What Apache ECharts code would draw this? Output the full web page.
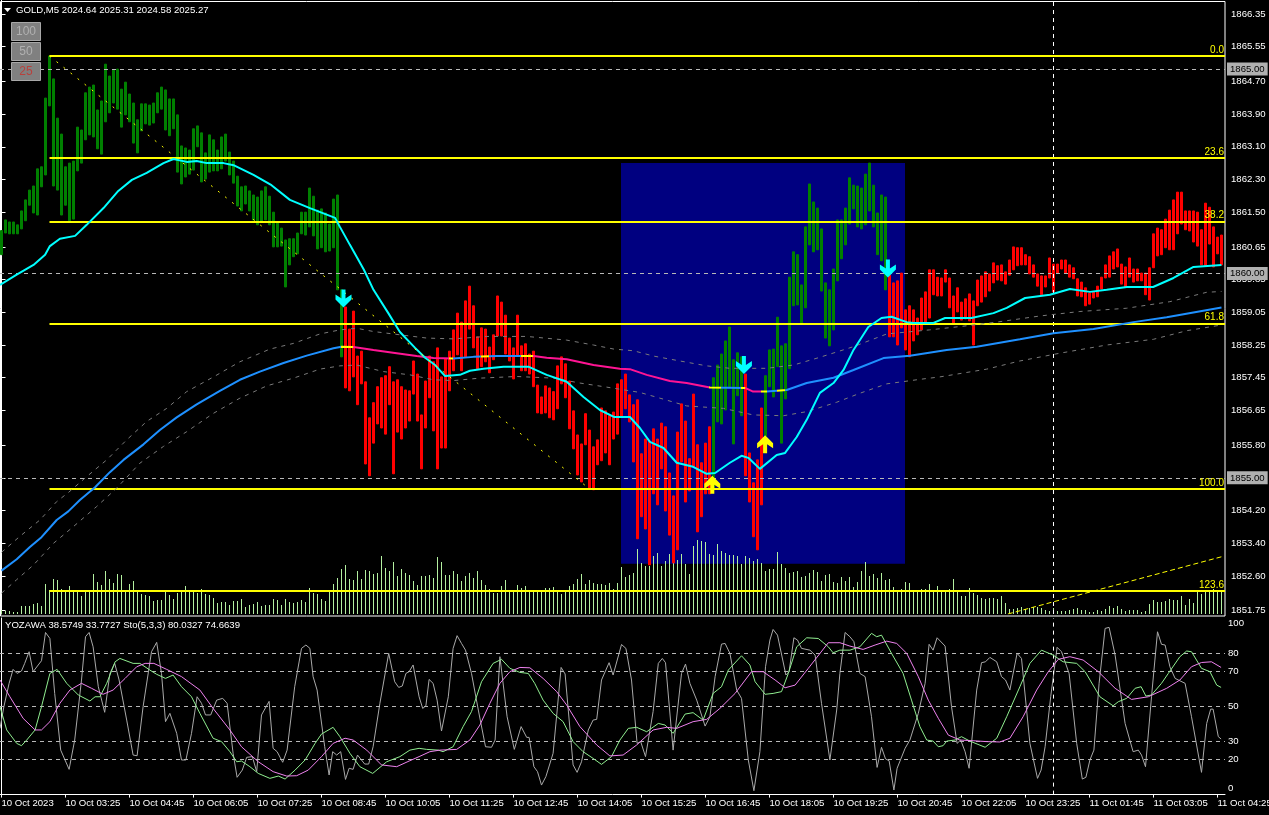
<!DOCTYPE html>
<html><head><meta charset="utf-8"><title>GOLD M5</title>
<style>html,body{margin:0;padding:0;background:#000}#c{width:1269px;height:815px}</style>
<script src="https://cdn.jsdelivr.net/npm/echarts@6/dist/echarts.min.js"></script>
</head><body><div id="c"></div>
<script>
const barHigh=[1861.05,1861.31,1861.26,1861.26,1861.19,1861.53,1861.80,1862.04,1862.14,1862.56,1862.61,1864.29,1865.32,1864.76,1863.80,1863.41,1862.61,1862.70,1862.75,1863.58,1863.51,1864.42,1864.56,1864.61,1864.00,1864.22,1865.12,1864.83,1864.98,1865.00,1864.51,1864.68,1864.39,1864.17,1863.76,1864.15,1864.15,1864.12,1864.17,1864.42,1864.56,1864.49,1864.27,1864.27,1863.88,1863.12,1863.07,1863.02,1863.54,1863.61,1863.44,1862.95,1863.39,1863.27,1863.02,1863.34,1863.41,1862.97,1862.75,1862.38,1862.12,1862.14,1862.02,1861.92,1861.87,1862.02,1862.12,1861.89,1861.50,1861.26,1861.11,1860.82,1860.85,1860.85,1860.99,1861.50,1861.50,1862.09,1861.89,1861.55,1861.58,1861.48,1861.21,1861.82,1861.92,1859.60,
1859.18,1858.64,1859.08,1857.98,1858.10,1857.35,1856.47,1856.84,1857.23,1857.45,1857.50,1857.72,1857.35,1857.40,1857.23,1857.15,1857.13,1857.86,1857.54,1856.54,1857.37,1857.98,1857.84,1858.18,1857.47,1857.91,1858.10,1858.62,1859.03,1858.81,1859.33,1859.69,1859.21,1858.45,1858.67,1858.64,1858.20,1858.50,1859.45,1859.30,1858.98,1858.42,1858.18,1858.98,1858.23,1858.28,1858.03,1858.10,1857.27,1856.98,1857.25,1857.20,1857.11,1857.74,1857.96,1857.79,1857.37,1856.64,1856.05,1855.83,1856.57,1856.17,1855.76,1855.93,1856.71,1856.64,1856.52,1856.61,1857.30,1857.40,1857.54,1857.03,1856.79,1856.91,1855.59,1855.95,1855.90,1856.20,1855.95,1856.34,1856.25,1855.12,1854.56,1856.12,1856.81,1856.39,1855.47,1857.05,1855.81,1855.37,1855.85,1856.25,
1857.45,1857.76,1858.03,1858.35,1858.69,1857.89,1858.06,1857.96,1857.54,1855.61,1854.88,1855.44,1856.71,1857.50,1858.13,1858.15,1858.93,1858.23,1858.28,1859.91,1860.53,1860.46,1859.72,1861.14,1862.19,1861.75,1861.60,1861.09,1859.77,1859.60,1860.11,1861.31,1861.31,1861.60,1862.34,1862.16,1862.14,1862.09,1862.43,1862.70,1862.16,1861.48,1861.92,1861.87,
1859.96,1859.77,1859.82,1860.01,1859.11,1859.21,1859.11,1858.91,1859.40,1859.55,1860.09,1860.09,1859.91,1859.89,1860.09,1859.89,1859.45,1859.65,1859.30,1859.38,1859.50,1859.33,1859.84,1859.94,1860.04,1859.99,1860.26,1860.19,1860.21,1860.04,1860.33,1860.65,1860.63,1860.63,1860.46,1860.41,1860.21,1859.99,1859.94,1859.94,1860.38,1860.23,1860.23,1860.33,1860.33,1860.21,1860.14,1859.87,1859.79,1859.65,1859.52,1859.55,1859.69,1859.91,1860.21,1860.43,1860.53,1860.60,1860.23,1860.16,1860.38,1860.11,1860.11,1860.01,1860.01,1860.14,1860.97,1861.11,1861.07,1861.33,1861.55,1861.80,1861.99,1861.99,1861.53,1861.53,1861.53,1861.50,1861.07,1861.72,1861.62,1861.14,1860.89,1860.94];
const barLow=[1860.46,1860.99,1860.97,1860.97,1860.97,1861.09,1861.29,1861.67,1861.48,1861.43,1862.12,1862.41,1864.10,1862.14,1862.04,1861.43,1861.67,1861.29,1861.33,1862.51,1862.70,1863.27,1863.39,1863.34,1863.05,1862.92,1863.71,1863.93,1864.17,1864.02,1863.58,1863.88,1863.71,1863.19,1862.95,1863.49,1863.66,1863.63,1863.68,1863.93,1864.02,1863.51,1863.37,1863.54,1862.48,1862.19,1862.36,1862.43,1862.53,1863.10,1862.24,1862.31,1862.48,1862.51,1862.51,1862.56,1862.75,1862.41,1862.21,1861.65,1861.53,1861.70,1861.53,1861.31,1861.19,1861.26,1861.31,1861.19,1860.65,1860.65,1860.67,1859.67,1860.21,1860.41,1860.48,1860.97,1860.94,1861.14,1860.92,1860.60,1860.63,1860.53,1860.55,1860.63,1859.60,1857.96,
1857.20,1857.13,1857.47,1856.79,1857.30,1855.34,1855.05,1855.85,1856.32,1856.22,1856.07,1856.79,1855.10,1856.12,1855.95,1856.22,1856.39,1857.05,1856.39,1855.22,1856.22,1856.96,1856.15,1855.22,1855.73,1855.73,1857.13,1857.62,1858.01,1857.62,1857.96,1858.64,1858.18,1857.67,1857.72,1857.84,1857.57,1857.89,1858.47,1858.47,1858.03,1857.86,1857.42,1857.98,1857.62,1857.62,1857.54,1857.23,1856.59,1856.57,1856.59,1856.47,1856.42,1856.69,1857.30,1856.96,1856.20,1855.71,1855.07,1854.90,1855.81,1854.73,1854.71,1855.32,1855.42,1855.61,1855.32,1855.95,1856.07,1856.49,1856.69,1856.37,1855.39,1853.51,1854.05,1853.75,1852.87,1854.61,1854.34,1855.22,1854.19,1853.60,1852.92,1853.24,1855.39,1854.41,1854.68,1855.27,1853.68,1854.05,1854.61,1854.61,
1854.71,1856.37,1856.32,1856.66,1857.20,1855.83,1857.01,1856.52,1855.05,1854.41,1853.56,1853.24,1854.34,1856.03,1857.23,1856.98,1857.72,1855.85,1856.93,1857.67,1859.21,1859.23,1858.76,1859.16,1860.70,1860.53,1860.58,1859.57,1858.42,1858.23,1858.62,1859.82,1860.36,1860.70,1861.21,1861.58,1861.14,1861.09,1861.19,1861.53,1861.14,1860.46,1860.31,1859.60,
1858.45,1858.45,1858.25,1858.67,1858.13,1857.96,1858.35,1858.50,1858.62,1858.76,1858.91,1859.48,1859.45,1859.45,1859.79,1859.16,1858.79,1859.06,1858.86,1858.89,1858.84,1858.25,1859.21,1859.30,1859.43,1859.57,1859.77,1859.84,1859.82,1859.74,1859.96,1860.09,1860.19,1860.21,1860.21,1859.99,1859.91,1859.69,1859.48,1859.67,1859.89,1859.55,1860.01,1860.11,1860.01,1859.91,1859.87,1859.45,1859.43,1859.21,1859.25,1859.40,1859.43,1859.62,1859.89,1859.91,1860.11,1860.16,1859.74,1859.67,1859.91,1859.79,1859.82,1859.82,1859.48,1859.35,1860.14,1860.43,1860.46,1860.63,1860.58,1860.58,1860.97,1861.21,1861.07,1861.04,1860.77,1860.67,1860.21,1860.19,1860.72,1860.16,1860.48,1860.21];
const bullRanges=[[0,85],[178,185],[191,221]];
const volume=[4,3,3,2,2,8,8,8,10,11,8,30,24,35,34,25,24,28,23,23,18,22,23,40,32,29,43,35,31,40,39,24,30,33,24,20,19,18,13,14,14,24,19,15,21,23,28,23,22,21,25,20,19,16,11,12,12,9,13,13,15,7,9,10,12,8,9,9,15,14,9,15,12,11,12,14,12,26,21,20,15,13,23,30,36,45,49,35,34,43,35,44,43,40,41,58,46,43,52,38,45,41,39,33,29,38,38,39,36,57,52,39,39,43,40,33,38,41,36,43,34,29,25,21,21,28,34,22,23,29,26,28,23,23,23,23,26,26,27,24,20,24,28,30,35,40,30,34,31,30,30,29,31,25,31,47,37,39,41,65,51,48,48,58,61,48,53,60,52,54,60,50,40,68,74,73,72,60,59,70,63,61,59,59,58,50,58,56,53,55,51,43,45,45,62,50,46,41,42,43,37,38,41,44,42,33,39,40,32,31,37,33,37,27,32,43,52,38,40,36,41,34,35,27,24,25,32,31,24,24,25,25,30,24,28,24,24,25,35,24,18,18,26,21,19,16,15,16,16,15,18,11,5,5,6,7,5,6,7,7,6,4,3,6,3,3,3,4,5,6,4,4,2,2,4,3,5,8,6,8,5,3,4,4,4,2,3,10,14,12,12,13,15,14,14,18,9,15,11,24,20,24,24,25,24,24];
const emaLine=[[-0.375,1859.72],[3.8,1859.97],[8,1860.21],[10.9,1860.46],[12.1,1860.67],[14.6,1860.85],[18.4,1860.92],[21.3,1861.19],[25.5,1861.60],[29.2,1862.02],[32.6,1862.29],[36.3,1862.46],[40.5,1862.70],[43,1862.80],[46.3,1862.73],[48.8,1862.75],[51.3,1862.70],[55.5,1862.70],[58,1862.65],[63,1862.41],[67.5,1862.16],[72.1,1861.80],[77.1,1861.60],[83.4,1861.36],[84.6,1861.14],[87.1,1860.70],[90.6,1860.09],[93,1859.60],[96.7,1859.03],[99.6,1858.57],[103.4,1858.18],[105.9,1857.94],[108.4,1857.76],[110.9,1857.49],[114.6,1857.52],[117.1,1857.62],[120.5,1857.67],[125.5,1857.72],[131.7,1857.72],[136.3,1857.52],[141.3,1857.35],[145.5,1856.98],[149.6,1856.66],[153.1,1856.49],[157.1,1856.49],[159.6,1856.22],[162.1,1855.88],[165.5,1855.73],[168.8,1855.37],[172.9,1855.27],[176.3,1855.10],[178.4,1855.12],[182.1,1855.37],[185,1855.54],[186.7,1855.49],[189.6,1855.22],[193.8,1855.56],[195.9,1855.61],[198.8,1856.00],[201.3,1856.42],[204.6,1857.08],[208,1857.32],[210.5,1857.64],[213,1858.13],[216.7,1858.69],[220,1858.91],[222.5,1858.94],[226.3,1858.81],[228,1858.79],[233,1858.79],[235.9,1858.91],[242.5,1858.91],[248,1859.03],[251.3,1859.16],[255.9,1859.40],[262.1,1859.48],[267.1,1859.62],[272.1,1859.55],[276.3,1859.60],[281.3,1859.67],[287.9,1859.67],[293,1859.89],[298,1860.16],[305,1860.21]];
const maLine=[[0,1852.73],[3.8,1853.01],[7.1,1853.31],[10,1853.55],[13.8,1853.97],[16.7,1854.18],[19.6,1854.46],[23.4,1854.77],[27.1,1855.14],[30.5,1855.44],[35.5,1855.82],[39.6,1856.17],[43.8,1856.48],[48.8,1856.80],[54.6,1857.13],[59.6,1857.40],[64.6,1857.60],[70.5,1857.81],[76.3,1857.99],[83,1858.17],[85,1858.21],[88,1858.20],[93,1858.13],[98.8,1858.05],[103.8,1857.98],[108,1857.93],[113,1857.92],[118,1857.96],[123.8,1857.98],[133,1857.98],[136.3,1857.94],[141.3,1857.90],[148,1857.76],[154.6,1857.67],[157.1,1857.66],[161.3,1857.52],[167.1,1857.37],[171.3,1857.32],[177.1,1857.21],[185.9,1857.20],[187.9,1857.11],[191.3,1857.11],[196.3,1857.15],[201.3,1857.32],[208,1857.45],[213,1857.64],[220.5,1857.93],[227.1,1857.99],[236.3,1858.13],[243.8,1858.21],[254.6,1858.39],[263,1858.54],[273,1858.64],[283,1858.81],[291.3,1858.93],[305,1859.17]];
const maColors=[{lt:85,color:'#1e90ff'},{gte:85,lt:88,color:'#ffff00'},{gte:88,lt:112,color:'#ff1493'},{gte:112,lt:113,color:'#ffff00'},{gte:113,lt:120,color:'#1e90ff'},{gte:120,lt:122,color:'#ffff00'},{gte:122,lt:130,color:'#1e90ff'},{gte:130,lt:133,color:'#ffff00'},{gte:133,lt:177,color:'#ff1493'},{gte:177,lt:180,color:'#ffff00'},{gte:180,lt:185,color:'#1e90ff'},{gte:185,lt:186,color:'#ffff00'},{gte:186,lt:190,color:'#ff1493'},{gte:190,lt:191.3,color:'#ffff00'},{gte:191.3,lt:194,color:'#1e90ff'},{gte:194,lt:196,color:'#ffff00'},{gte:196,color:'#1e90ff'}];
const bandUpper=[[0,1853.18],[4.6,1853.57],[9.6,1853.97],[13.8,1854.42],[16.7,1854.64],[21.3,1855.03],[26.3,1855.44],[31.3,1855.93],[36.3,1856.38],[41.3,1856.70],[46.3,1857.11],[53,1857.47],[59.6,1857.84],[67.1,1858.15],[73,1858.29],[79.6,1858.52],[84.6,1858.62],[88.8,1858.66],[93,1858.58],[99.6,1858.50],[106.3,1858.42],[113,1858.40],[121.3,1858.46],[131.3,1858.46],[141.3,1858.37],[148,1858.25],[153.1,1858.15],[158,1858.11],[163,1857.98],[169.6,1857.86],[176.3,1857.74],[182.1,1857.68],[191.3,1857.68],[198,1857.76],[204.6,1857.95],[213,1858.21],[221.3,1858.52],[232,1858.62],[241.3,1858.72],[248.8,1858.81],[259.6,1858.96],[269.6,1859.07],[281.3,1859.15],[292.1,1859.31],[301.3,1859.54],[305,1859.56]];
const bandLower=[[0,1852.18],[3.8,1852.51],[8,1852.87],[13,1853.40],[18,1853.81],[23.8,1854.30],[28.8,1854.75],[34.6,1855.36],[40.5,1855.77],[46.3,1856.13],[53,1856.58],[59.6,1856.95],[66.3,1857.25],[73,1857.44],[79.6,1857.66],[84.6,1857.74],[88.8,1857.76],[95.5,1857.60],[102.1,1857.52],[108,1857.40],[113,1857.38],[119.6,1857.44],[128.8,1857.48],[138,1857.44],[144.6,1857.32],[151.3,1857.22],[159.6,1857.09],[164.6,1856.95],[171.3,1856.76],[180.5,1856.70],[187.9,1856.54],[195.5,1856.52],[201.3,1856.62],[208.8,1856.85],[214.6,1857.07],[221.3,1857.30],[229.6,1857.41],[234.6,1857.47],[246.3,1857.66],[254.6,1857.86],[264.6,1858.05],[276.3,1858.25],[288,1858.39],[296.3,1858.60],[305,1858.74]];
const trendDown=[[12,1865.32],[147,1854.73]];
const trendExt=[[251.6,1851.67],[305,1853.07]];
const fibNames=['0.0','23.6','38.2','61.8','100.0','123.6'];
const fibValues=[1865.32,1862.82,1861.27,1858.78,1854.73,1852.23];
const levelValues=[1865,1860,1855];
const priceTicks=[1866.35,1865.55,1864.70,1863.90,1863.10,1862.30,1861.50,1860.65,1859.85,1859.05,1858.25,1857.45,1856.65,1855.80,1855.00,1854.20,1853.40,1852.60,1851.75];
const timeLabels=['10 Oct 2023','10 Oct 03:25','10 Oct 04:45','10 Oct 06:05','10 Oct 07:25','10 Oct 08:45','10 Oct 10:05','10 Oct 11:25','10 Oct 12:45','10 Oct 14:05','10 Oct 15:25','10 Oct 16:45','10 Oct 18:05','10 Oct 19:25','10 Oct 20:45','10 Oct 22:05','10 Oct 23:25','11 Oct 01:45','11 Oct 03:05','11 Oct 04:25'];
const arrowsDown=[[85.5,1859.39],[185.6,1857.76],[221.6,1860.12]];
const arrowsUp=[[177.7,1854.83],[190.9,1855.82]];
const stoLevels=[80,70,50,30,20];
const stoTicks=[100,80,70,50,30,20,0];
const yozawa=[[-0.375,37.5],[0.6,49.8],[1.9,63.0],[2.9,70.9],[3.9,68.6],[5,70.0],[5.8,74.3],[6.9,80.9],[7.9,69.6],[10,75.8],[11,91.8],[12.1,88.4],[13.3,57.3],[14.8,25.2],[16.9,14.3],[18.3,30.9],[20,64.9],[21,89.4],[21.9,91.8],[22.9,83.7],[24.2,61.1],[25.8,46.6],[27.1,68.6],[28.3,74.3],[29.4,64.9],[31.3,42.2],[32.9,22.4],[33.9,22.0],[35.4,49.8],[37.5,80.9],[38.8,86.2],[40,68.6],[41,41.3],[42.1,46.0],[43.8,34.7],[45,19.6],[46.1,19.6],[47.5,34.7],[48.9,55.4],[50,51.7],[51,45.1],[52.3,45.1],[53.8,53.5],[55.3,54.5],[56.4,51.7],[57.9,23.4],[58.9,9.8],[60.2,13.9],[61.3,21.1],[62.7,21.5],[63.8,13.0],[65,45.1],[66.9,52.8],[67.9,26.2],[68.9,24.3],[70.3,18.3],[71.4,25.2],[73.3,61.1],[75,82.8],[76.1,84.7],[77.1,82.8],[77.9,66.8],[78.9,59.2],[80.8,27.1],[81.9,11.1],[82.8,24.3],[83.8,22.4],[84.8,24.3],[86,8.6],[86.9,14.9],[87.9,14.3],[89,22.4],[90.8,17.3],[91.8,17.3],[92.9,27.1],[94.6,51.7],[96.8,80.0],[98.3,63.9],[99.3,60.7],[100.2,61.5],[101.1,68.6],[101.9,69.6],[102.9,73.4],[104.4,55.4],[105.3,48.8],[106.1,50.3],[106.9,65.2],[107.9,63.0],[108.9,53.5],[110,36.0],[111.7,55.4],[112.9,82.8],[113.9,90.0],[115,85.6],[116,81.8],[117.5,68.6],[119.2,47.9],[121,27.1],[122.5,26.8],[123.4,30.9],[124.6,78.1],[126.4,44.1],[128.2,25.6],[129.9,38.5],[131.3,32.4],[131.9,32.4],[133.1,15.8],[134,13.0],[135,5.4],[136.1,10.2],[137.9,23.4],[139,49.8],[139.9,72.0],[140.9,68.3],[142.9,16.8],[143.9,12.6],[145,18.6],[146.7,36.6],[147.9,42.2],[148.8,42.6],[150,64.9],[151.9,74.7],[152.9,67.7],[155,85.0],[156.1,82.8],[157.5,64.9],[158.9,29.0],[159.8,30.0],[161,21.5],[162.9,47.0],[164.2,74.3],[165.2,77.1],[166,74.7],[167.9,25.2],[170,68.6],[171,73.9],[172.1,63.0],[173.8,53.5],[175.9,38.8],[177.1,44.1],[178.4,66.8],[180,85.2],[180.9,85.6],[182.1,80.0],[183.8,59.2],[185,54.5],[186.7,19.6],[188.1,2.2],[189.6,24.3],[191,72.4],[192.1,87.5],[192.9,93.5],[194,90.3],[196.1,67.7],[196.9,69.6],[198.1,88.8],[199,87.5],[200,82.8],[202.1,81.8],[203.4,79.0],[205,51.7],[207.1,19.6],[208.8,47.9],[209.6,68.6],[210.9,91.8],[212.1,89.4],[213.1,86.6],[214.6,68.6],[215.9,66.8],[217.5,44.1],[218.9,15.4],[220,26.8],[221,20.2],[221.9,19.2],[223.1,2.6],[223.9,14.9],[225.9,26.2],[227.1,30.9],[229.2,46.0],[230.9,63.0],[231.9,85.1],[232.9,81.8],[233.9,88.8],[235.9,84.1],[237.5,49.8],[238.9,29.0],[239.8,30.9],[240.9,24.3],[241.9,14.9],[243.8,59.2],[245,74.7],[246,75.2],[247.1,77.7],[248.8,75.2],[250,66.8],[251,64.9],[252.1,59.2],[253.9,80.0],[255,77.1],[257.1,29.0],[259,9.2],[259.9,13.9],[260.9,27.1],[262.3,55.4],[263.9,83.4],[265,80.9],[266.9,68.6],[268.8,29.0],[270.2,8.8],[271.1,9.8],[272.1,19.6],[273.1,25.2],[274.4,63.0],[275.9,94.1],[276.9,94.7],[278.4,79.0],[280.9,40.3],[282.9,24.3],[284.2,25.2],[285,22.4],[286,15.8],[287.5,55.4],[289,92.2],[290,85.1],[290.9,84.7],[292.1,72.4],[293.4,65.8],[295.9,63.0],[297.5,44.1],[300,12.6],[301.3,40.3],[302.3,48.4],[302.9,48.4],[304.2,32.8],[304.9,31.5]];
const stoMain=[[-0.375,49.8],[1.3,36.6],[3.8,29.0],[5,27.7],[6.3,30.9],[8.4,36.6],[10,49.8],[12.1,68.6],[13.9,70.9],[16.3,63.0],[19.2,56.4],[22.1,53.0],[23.4,55.4],[24.6,55.4],[26.3,63.0],[28.4,75.2],[29.6,77.1],[32.9,74.3],[34.6,74.3],[37.1,70.5],[38.8,68.1],[41,65.8],[42.9,67.7],[45,61.1],[47.5,55.4],[49.6,46.0],[52.9,31.9],[55,30.0],[57.1,24.3],[58.8,18.6],[60,19.0],[62.1,15.8],[64.2,12.0],[67.1,9.2],[69.2,10.5],[70.9,8.8],[73.4,13.9],[75.9,19.6],[78.4,29.0],[80,34.3],[82.9,38.1],[84.6,32.8],[87.1,23.4],[89.6,15.8],[92.8,12.0],[96.3,18.6],[99.6,21.5],[102.1,25.2],[104.4,26.2],[106.3,25.6],[109.2,25.2],[110.4,24.3],[112.9,27.1],[115.4,38.5],[117.5,47.0],[120,63.9],[122.9,74.3],[125,76.6],[127.1,71.5],[129.6,69.2],[131.7,68.6],[133.3,63.0],[135.4,53.5],[137.9,46.0],[140.4,41.3],[142.9,30.0],[145.4,24.3],[147.9,20.5],[150,17.1],[152.5,21.5],[154.6,30.9],[156.7,37.5],[158.8,38.1],[161.3,35.6],[164.2,40.3],[165.9,39.4],[167.9,34.7],[170.9,45.6],[172.9,46.4],[175.4,42.2],[177.9,57.3],[180,61.1],[181.7,70.5],[185,78.6],[187.1,73.4],[188.4,63.9],[190.9,56.8],[192.9,57.3],[195,58.3],[196.7,68.6],[198.8,83.7],[201.3,88.8],[204.2,88.4],[206.7,83.7],[207.9,80.3],[209.6,81.8],[212.1,81.8],[214.6,83.7],[217.5,91.3],[218.8,89.4],[220,90.3],[222.5,80.0],[225.4,68.6],[227.5,53.5],[229.6,38.5],[231.3,30.9],[232.9,30.3],[234.2,27.1],[235.4,27.7],[236.3,30.3],[238.4,30.9],[240,32.8],[242.1,30.3],[245.9,26.8],[248.8,31.9],[251.3,44.1],[254.6,61.1],[257.1,74.3],[260,81.8],[262.9,79.0],[265.4,75.2],[268.8,74.3],[270.9,69.6],[274.6,55.4],[277.9,50.3],[279.2,52.6],[281.3,54.5],[283.4,60.2],[284.9,61.1],[286.1,55.8],[287.5,56.4],[290,63.0],[291.7,68.6],[294.6,78.1],[296.3,81.3],[297.5,80.9],[300,71.5],[302.1,69.6],[303.8,62.0],[304.9,60.7]];
const stoSignal=[[-0.375,64.9],[2.1,55.4],[5.4,43.2],[8.4,36.6],[10,36.6],[12.1,41.3],[14.6,51.7],[17.1,59.2],[20,63.0],[22.5,60.2],[25.4,56.8],[27.9,59.2],[30.9,65.8],[33.8,72.4],[35.9,74.3],[38.1,74.3],[41.3,70.9],[45,66.8],[49.6,59.2],[52.9,48.8],[57.1,36.6],[60,27.1],[64.2,18.6],[67.9,13.0],[71.3,10.5],[73.8,10.7],[76.7,13.9],[80,21.5],[82.9,29.0],[85.9,31.9],[87.9,30.9],[91.3,25.2],[95,16.8],[98.8,15.8],[102.1,19.2],[104.4,21.5],[107.1,24.3],[109.6,25.2],[113.8,25.6],[117.1,30.9],[119.6,39.4],[122.1,51.7],[124.6,63.0],[127.1,69.6],[129.6,72.0],[132.1,71.8],[135.4,65.8],[138.8,58.3],[141.3,50.7],[144.6,38.5],[148.8,28.1],[152.1,21.9],[155.4,22.4],[158.8,28.1],[162.9,36.6],[166.3,38.1],[168.8,37.5],[172.9,41.3],[176.3,42.6],[179.6,48.8],[183.4,57.3],[187.5,69.6],[190.4,69.6],[193.4,64.9],[195.9,60.5],[198.4,62.0],[201.7,71.5],[206.7,86.0],[209.6,86.0],[212.1,84.1],[215.4,82.2],[218.4,84.7],[221.3,86.9],[223.8,85.6],[226.3,80.0],[229.2,66.8],[231.7,53.5],[234.2,43.2],[236.7,33.7],[239.6,30.9],[242.9,30.5],[246.3,30.0],[249.6,29.8],[252.1,31.9],[255.4,44.1],[258.8,59.2],[261.7,69.6],[264.2,76.6],[267.1,78.1],[270.4,76.2],[274.2,69.6],[278.4,60.2],[282.5,53.9],[286.7,55.4],[291.3,60.2],[294.6,64.9],[297.5,72.4],[300,74.8],[302.5,75.2],[304.9,72.0]];

const FONT='"Liberation Sans",sans-serif';
const TXT='#ffffff', FS=9.6;
const isBull=i=>bullRanges.some(r=>i>=r[0]&&i<=r[1]);
const candle=(i)=>[i,barLow[i],barHigh[i],barLow[i],barHigh[i]];
const bull=[],bear=[];
barHigh.forEach((_,i)=>(isBull(i)?bull:bear).push(candle(i)));
const XMIN=-0.375,XMAX=305.875,CROSS=262.875;
const arrowPath='path://M6 0H10V9L16 5V10L8 18L0 10V5L6 9Z';
const candleSeries=(data,color)=>({type:'candlestick',data,encode:{x:0,y:[1,2,3,4]},barWidth:2,z:4,
  itemStyle:{color,color0:color,borderColor:color,borderColor0:color,borderWidth:1},silent:true});
const thin=(data,color,z,xi,yi,extra)=>Object.assign({type:'line',data,showSymbol:false,symbol:'none',smooth:false,silent:true,
  xAxisIndex:xi,yAxisIndex:yi,z,lineStyle:{color,width:1}},extra||{});
const labelFor=v=>v>=97?100:(v<=4?0:v);
const option={
 animation:false,backgroundColor:'#000',
 textStyle:{fontFamily:FONT},
 title:[
  {text:'GOLD,M5 2024.64 2025.31 2024.58 2025.27',left:16,top:5,padding:0,textStyle:{color:TXT,fontSize:FS,fontWeight:'normal',fontFamily:FONT}},
  {text:'YOZAWA 38.5749 33.7727 Sto(5,3,3) 80.0327 74.6639',left:5,top:620,padding:0,textStyle:{color:TXT,fontSize:FS,fontWeight:'normal',fontFamily:FONT}}
 ],
 grid:[{left:0,top:0,width:1225,height:614,containLabel:false,outerBoundsMode:'none'},{left:0,top:618,width:1225,height:176.6,containLabel:false,outerBoundsMode:'none'}],
 xAxis:[
  {type:'value',gridIndex:0,min:XMIN,max:XMAX,show:false,containShape:false,splitLine:{show:false}},
  {type:'value',gridIndex:1,min:XMIN,max:XMAX,containShape:false,splitLine:{show:false},
   axisLine:{show:true,onZero:false,lineStyle:{color:'#fff',width:1}},
   axisTick:{show:true,length:3,lineStyle:{color:'#fff'},customValues:timeLabels.map((_,k)=>k*16)},
   axisLabel:{show:true,color:TXT,fontSize:FS,fontFamily:FONT,align:'left',margin:4,hideOverlap:false,showMinLabel:true,showMaxLabel:true,
     customValues:timeLabels.map((_,k)=>k*16),formatter:v=>timeLabels[Math.round(v/16)]}}
 ],
 yAxis:[
  {type:'value',gridIndex:0,position:'right',min:1851.67,max:1866.69,splitLine:{show:false},
   axisLine:{show:true,lineStyle:{color:'#fff'}},
   axisTick:{show:true,length:4,lineStyle:{color:'#fff'},customValues:priceTicks},
   axisLabel:{color:TXT,fontSize:FS,fontFamily:FONT,margin:6,align:'left',customValues:priceTicks,formatter:v=>v.toFixed(2)}},
  {type:'value',gridIndex:0,position:'right',min:0,max:614,show:false,splitLine:{show:false}},
  {type:'value',gridIndex:1,position:'right',min:0,max:100,splitLine:{show:false},
   axisLine:{show:true,lineStyle:{color:'#fff'}},axisTick:{show:false},
   axisLabel:{color:TXT,fontSize:FS,fontFamily:FONT,margin:3,align:'left',
     customValues:stoTicks.map(v=>v===100?97:(v===0?3.7:v)),formatter:labelFor}}
 ],
 visualMap:[{type:'piecewise',show:false,dimension:0,seriesIndex:6,pieces:maColors}],
 series:[
  {type:'line',name:'session',data:[],xAxisIndex:0,yAxisIndex:0,z:1,silent:true,symbol:'none',
   markArea:{silent:true,itemStyle:{color:'#000080',opacity:1},data:[[{coord:[154.875,1862.70]},{coord:[225.875,1852.90]}]]}},
  {type:'line',name:'levels',data:[],xAxisIndex:0,yAxisIndex:0,z:5,silent:true,symbol:'none',
   markLine:{silent:true,symbol:'none',animation:false,lineStyle:{color:'#b8b8b8',type:[4,4],width:1},
    label:{show:true,position:'end',distance:2,color:'#000',backgroundColor:'#b0b0b0',padding:[2,3,1,3],fontSize:FS,fontFamily:FONT,formatter:p=>p.value.toFixed(2)},
    data:levelValues.map(v=>({yAxis:v}))
      .concat([{xAxis:CROSS,lineStyle:{color:'#fff',type:[4,4],width:1},label:{show:false}}])}},
  {type:'bar',name:'volume',data:volume.map((v,i)=>[i,v]),barWidth:1,xAxisIndex:0,yAxisIndex:1,z:2,silent:true,itemStyle:{color:'#b4f0a0'}},
  Object.assign(candleSeries(bull,'#008000'),{xAxisIndex:0,yAxisIndex:0}),
  Object.assign(candleSeries(bear,'#ff0000'),{xAxisIndex:0,yAxisIndex:0}),
  thin(bandUpper,'#7a7a7a',6,0,0,{lineStyle:{color:'#7a7a7a',width:1,type:[4,5]}}),
  thin(maLine,'#1e90ff',7,0,0,{lineStyle:{width:2}}),
  thin(bandLower,'#7a7a7a',6,0,0,{lineStyle:{color:'#7a7a7a',width:1,type:[4,5]}}),
  thin(emaLine,'#00ffff',8,0,0,{lineStyle:{color:'#00ffff',width:2}}),
  thin(trendDown,'#ffff00',9,0,0,{lineStyle:{color:'#ffff00',width:1,type:[2,7]}}),
  thin(trendExt,'#ffff00',9,0,0,{lineStyle:{color:'#ffff00',width:1,type:[5,3]}}),
  {type:'line',name:'fib',data:[],xAxisIndex:0,yAxisIndex:0,z:10,silent:true,symbol:'none',
   markLine:{silent:true,symbol:'none',animation:false,lineStyle:{color:'#ffff00',width:2,type:'solid'},
    label:{show:true,position:'insideEndTop',distance:[1,1],color:'#ffff00',fontSize:10,fontFamily:FONT,formatter:p=>p.name},
    data:fibValues.map((v,k)=>[{name:fibNames[k],coord:[12,v]},{coord:[XMAX,v]}])}},
  {type:'scatter',name:'sellArrows',data:arrowsDown,symbol:arrowPath,symbolSize:[16,18],xAxisIndex:0,yAxisIndex:0,z:11,silent:true,itemStyle:{color:'#00ffff',opacity:1}},
  {type:'scatter',name:'buyArrows',data:arrowsUp,symbol:arrowPath,symbolSize:[16,18],symbolRotate:180,xAxisIndex:0,yAxisIndex:0,z:11,silent:true,itemStyle:{color:'#ffff00',opacity:1}},
  {type:'line',name:'stoLevels',data:[],xAxisIndex:1,yAxisIndex:2,z:1,silent:true,symbol:'none',
   markLine:{silent:true,symbol:'none',animation:false,lineStyle:{color:'#b8b8b8',type:[4,4],width:1},label:{show:false},
    data:stoLevels.map(v=>({yAxis:v})).concat([{xAxis:CROSS,lineStyle:{color:'#fff',type:[4,4],width:1}}])}},
  thin(yozawa,'#a9a9a9',4,1,2),
  thin(stoMain,'#90ee90',5,1,2),
  thin(stoSignal,'#ee82ee',6,1,2)
 ],
 graphic:[
  {type:'rect',z:0,silent:true,shape:{x:0.5,y:1.5,width:1224.5,height:614.5},style:{fill:null,stroke:'#fff',lineWidth:1}},
  {type:'polygon',z:50,silent:true,shape:{points:[[4,8],[11,8],[7.5,12]]},style:{fill:'#fff'}},
  {type:'rect',z:50,silent:true,shape:{x:11.5,y:22.5,width:29,height:18},style:{fill:'#808080',stroke:'#a8a8a8',lineWidth:1}},
  {type:'rect',z:50,silent:true,shape:{x:11.5,y:42.5,width:29,height:18},style:{fill:'#808080',stroke:'#a8a8a8',lineWidth:1}},
  {type:'rect',z:50,silent:true,shape:{x:11.5,y:62.5,width:29,height:18},style:{fill:'#808080',stroke:'#a8a8a8',lineWidth:1}},
  {type:'text',z:51,silent:true,style:{x:26,y:31.5,text:'100',fill:'#b0b0b0',font:'12px "Liberation Sans"',textAlign:'center',textVerticalAlign:'middle'}},
  {type:'text',z:51,silent:true,style:{x:26,y:51.5,text:'50',fill:'#b0b0b0',font:'12px "Liberation Sans"',textAlign:'center',textVerticalAlign:'middle'}},
  {type:'text',z:51,silent:true,style:{x:26,y:71.5,text:'25',fill:'#b8403c',font:'12px "Liberation Sans"',textAlign:'center',textVerticalAlign:'middle'}}
 ]
};
echarts.init(document.getElementById('c')).setOption(option);
</script></body></html>
